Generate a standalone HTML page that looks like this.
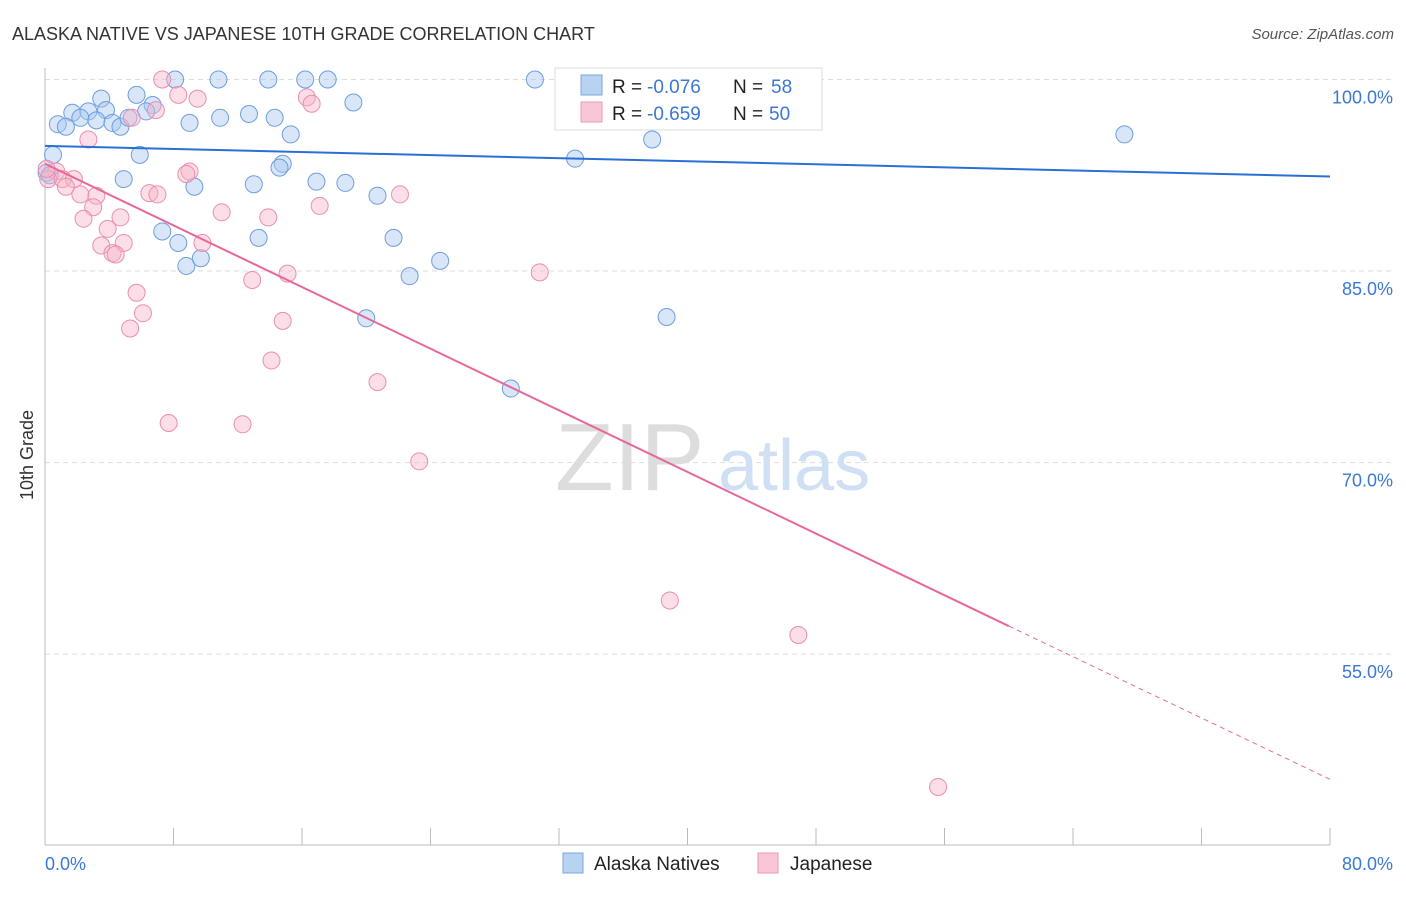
<!DOCTYPE html>
<html><head><meta charset="utf-8"><style>
body{margin:0;background:#fff;font-family:"Liberation Sans",sans-serif;}
svg text{font-family:"Liberation Sans",sans-serif;}
</style></head><body>
<svg id="chart" width="1406" height="892">
<text x="12" y="40" font-size="18" fill="#333">ALASKA NATIVE VS JAPANESE 10TH GRADE CORRELATION CHART</text>
<text x="1394" y="39" font-size="15" fill="#555" text-anchor="end" font-style="italic">Source: ZipAtlas.com</text>
<text x="33" y="455" font-size="18" fill="#333" text-anchor="middle" transform="rotate(-90 33 455)">10th Grade</text>
<g id="grid"></g><g id="axes"></g>
<text x="555" y="490" font-size="96" fill="#ddd" font-family="Liberation Serif">ZIP</text>
<text x="718" y="490" font-size="72" fill="#cfe0f4">atlas</text>
<g id="marks"></g>
<g>
<rect x="555" y="68" width="267" height="62" fill="#fff" stroke="#ddd"/>
<rect x="581" y="75" width="21" height="20" fill="#b8d2f2" stroke="#7aa7e0"/>
<rect x="581" y="102" width="21" height="20" fill="#f9c6d5" stroke="#ec9ab3"/>
<text x="612" y="93" font-size="19" fill="#222">R =</text>
<text x="647" y="93" font-size="19" fill="#3a78d4">-0.076</text>
<text x="733" y="93" font-size="19" fill="#222">N =</text>
<text x="771" y="93" font-size="19" fill="#3a78d4">58</text>
<text x="612" y="120" font-size="19" fill="#222">R =</text>
<text x="647" y="120" font-size="19" fill="#3a78d4">-0.659</text>
<text x="733" y="120" font-size="19" fill="#222">N =</text>
<text x="769" y="120" font-size="19" fill="#3a78d4">50</text>
</g>
<g>
<rect x="563" y="853" width="20" height="20" fill="#b8d2f2" stroke="#7aa7e0"/>
<text x="594" y="870" font-size="19" fill="#222">Alaska Natives</text>
<rect x="758" y="853" width="20" height="20" fill="#f9c6d5" stroke="#ec9ab3"/>
<text x="790" y="870" font-size="19" fill="#222">Japanese</text>
</g>
</svg>
<script>
const xTicks=[0,8,16,24,32,40,48,56,64,72,80];
const yTicks=[100,85,70,55];
const blueX=[8.1,10.8,13.9,16.2,17.6,30.5,41.5,44.7,46.3,5.7,3.5,6.7,19.2,1.7,2.7,3.8,6.3,12.7,0.8,2.2,3.2,1.3,4.2,4.7,5.2,9.0,10.9,14.3,15.3,0.5,5.9,33.0,37.8,67.2,14.8,14.6,16.9,13.0,0.1,4.9,9.3,18.7,20.7,7.3,8.3,13.3,21.7,8.8,9.7,22.7,24.6,20.0,38.7,29.0,0.3];
const blueY=[100,100,100,100,100,100,100,100,100,98.8,98.5,98.0,98.2,97.4,97.5,97.6,97.5,97.3,96.5,97.0,96.8,96.3,96.6,96.3,97.0,96.6,97.0,97.0,95.7,94.1,94.1,93.8,95.3,95.7,93.4,93.1,92.0,91.8,92.7,92.2,91.6,91.9,90.9,88.1,87.2,87.6,87.6,85.4,86.0,84.6,85.8,81.3,81.4,75.8,92.5];
const pinkX=[7.3,36.9,8.3,9.5,16.3,16.6,6.9,5.4,2.7,0.7,0.2,1.1,1.8,1.3,9.0,8.8,2.2,3.2,6.5,7.0,22.1,17.1,3.0,11.0,4.7,13.9,2.4,3.9,3.5,4.9,4.2,4.4,9.8,15.1,12.9,30.8,5.7,6.1,14.8,5.3,14.1,20.7,7.7,12.3,23.3,38.9,46.9,55.6,0.1];
const pinkY=[100,100,98.8,98.5,98.6,98.1,97.6,97.0,95.3,92.8,92.2,92.2,92.2,91.6,92.8,92.6,91.0,90.9,91.1,91.0,91.0,90.1,90.0,89.6,89.2,89.2,89.1,88.3,87.0,87.2,86.4,86.3,87.2,84.8,84.3,84.9,83.3,81.7,81.1,80.5,78.0,76.3,73.1,73.0,70.1,59.2,56.5,44.6,93.0];
const blueTrend=[0,94.8,80,92.4];
const pinkTrend=[0,93.4,60,57.2,80,45.2];
const NS="http://www.w3.org/2000/svg";
const X=v=>45+v*(1330-45)/80;
const Y=v=>79.5+(100-v)*12.77;
function mk(t,a,p){const e=document.createElementNS(NS,t);for(const k in a)e.setAttribute(k,a[k]);p.appendChild(e);return e;}
const grid=document.getElementById('grid'),axes=document.getElementById('axes'),marks=document.getElementById('marks');
yTicks.forEach(v=>{
 const l=mk('line',{x1:45,x2:1394,y1:Y(v),y2:Y(v),stroke:'#ddd','stroke-dasharray':'5,4'},grid);
 
 
 const t=mk('text',{x:1393,y:Y(v)+24,'font-size':18,fill:'#3a78d4','text-anchor':'end'},axes);
 t.textContent=v.toFixed(1)+'%';
 
 
});
mk('line',{x1:45,x2:45,y1:68,y2:845,stroke:'#bbb'},axes);
mk('line',{x1:45,x2:1330,y1:845,y2:845,stroke:'#bbb'},axes);
xTicks.forEach(v=>{
 const l=mk('line',{x1:X(v),x2:X(v),y1:828,y2:845,stroke:'#bbb'},axes);
 
 
});
[[0,'start',45],[80,'end',1393]].forEach(([v,a,x])=>{
 const t=mk('text',{x:x,y:870,'font-size':18,fill:'#3a78d4','text-anchor':a},axes);
 t.textContent=v.toFixed(1)+'%';
 
 
});
function pts(xs,ys,fill,stroke,name){
 xs.forEach((x,i)=>{
  const c=mk('circle',{cx:X(x),cy:Y(ys[i]),r:8.5,fill:fill,'fill-opacity':0.45,stroke:stroke,'stroke-width':1},marks);
  
  
 });
}
pts(blueX,blueY,'#a9c8ef','#6d9ee0','alaska-native-point');
pts(pinkX,pinkY,'#f7b5c9','#ea8fac','japanese-point');
const bt=mk('line',{x1:X(blueTrend[0]),y1:Y(blueTrend[1]),x2:X(blueTrend[2]),y2:Y(blueTrend[3]),stroke:'#2a6fd4','stroke-width':2},marks);


const pt=mk('line',{x1:X(pinkTrend[0]),y1:Y(pinkTrend[1]),x2:X(pinkTrend[2]),y2:Y(pinkTrend[3]),stroke:'#e8679a','stroke-width':2},marks);


const pd=mk('line',{x1:X(pinkTrend[2]),y1:Y(pinkTrend[3]),x2:X(pinkTrend[4]),y2:Y(pinkTrend[5]),stroke:'#e8679a','stroke-width':1,'stroke-dasharray':'5,4'},marks);


</script>
</body></html>
